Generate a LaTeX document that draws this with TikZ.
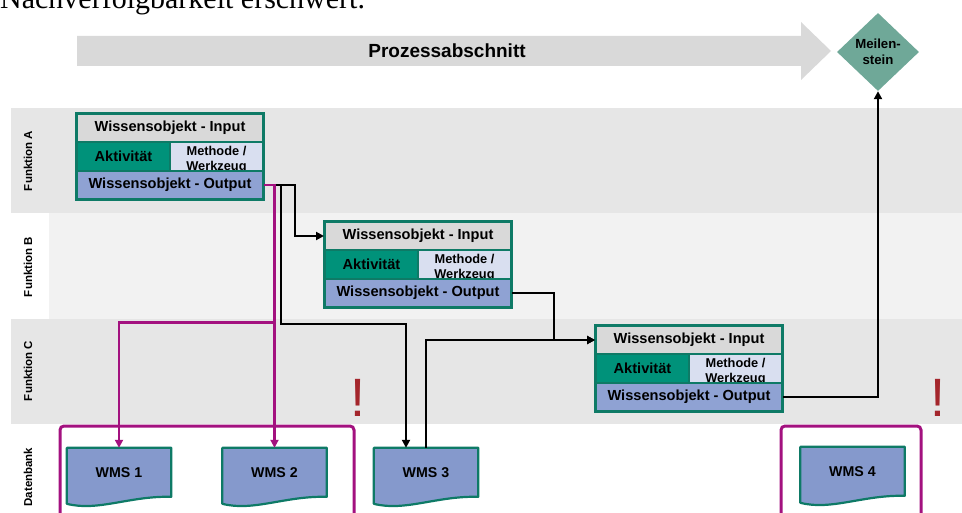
\documentclass[tikz,border=0pt]{standalone}
\usepackage{fontspec}
\setmainfont{Liberation Sans}
\newfontfamily\headserif{Liberation Serif}
\usetikzlibrary{shapes.geometric,arrows.meta,calc}
\pgfdeclarelayer{bg}
\pgfsetlayers{bg,main}

\definecolor{laneD}{HTML}{E6E6E6}
\definecolor{laneL}{HTML}{F2F2F2}
\definecolor{inGray}{HTML}{D9D9D9}
\definecolor{tealB}{HTML}{0E7A66}
\definecolor{aktF}{HTML}{00927A}
\definecolor{metF}{HTML}{D9DFF0}
\definecolor{outF}{HTML}{8FA2D3}
\definecolor{wmsF}{HTML}{8599CC}
\definecolor{msF}{HTML}{6FA898}
\definecolor{purp}{HTML}{A3117F}
\definecolor{bangC}{HTML}{A4262C}
\definecolor{arrowG}{HTML}{D9D9D9}

\newcommand{\wissbox}[3]{%
  \node[cin] (#1In) at (#2+93,#3+14) {Wissensobjekt - Input};
  \node[cakt] (#1Akt) at (#2+46.5,#3+42.5) {Aktivität};
  \node[cmet] (#1Met) at (#2+139.5,#3+42.5) {};
  \node[mettext] (#1MetT) at (#2+139.5,#3+45.5) {Methode /\\Werkzeug};
  \node[cout] (#1Out) at (#2+93,#3+71) {Wissensobjekt - Output};
  \draw[tealB, line width=2.4pt] (#1In.north west) rectangle (#1Out.south east);
}

\begin{document}
\begin{tikzpicture}[x=1pt,y=-1pt,
  cellbase/.style={draw=tealB, line width=2pt, inner sep=0pt, font=\bfseries\fontsize{14.6}{16}\selectfont},
  cin/.style={cellbase, fill=inGray, minimum width=186pt, minimum height=28pt},
  cakt/.style={cellbase, fill=aktF, minimum width=93pt, minimum height=29pt},
  cmet/.style={cellbase, fill=metF, minimum width=93pt, minimum height=29pt},
  cout/.style={cellbase, fill=outF, minimum width=186pt, minimum height=28pt},
  mettext/.style={inner sep=0pt, align=center, font=\bfseries\fontsize{12.8}{15}\selectfont},
  lanelab/.style={rotate=90, inner sep=0pt, font=\bfseries\fontsize{11.5}{13}\selectfont},
  wmslab/.style={minimum width=104pt, minimum height=50pt, inner sep=0pt, font=\bfseries\fontsize{14.2}{16}\selectfont},
  wmsshape/.style={fill=wmsF, draw=tealB, line width=2.2pt, line join=round},
  conn/.style={line width=2.2pt, black, -{Triangle[length=8pt,width=8pt]}},
  pconn/.style={line width=2.6pt, purp, -{Triangle[length=8pt,width=8pt]}},
  grouprect/.style={draw=purp, line width=3pt, rounded corners=4pt},
  bangst/.style={inner sep=0pt, text=bangC, font=\fontsize{54}{54}\selectfont}
]
\useasboundingbox (0,0) rectangle (962,513);

% lanes
\begin{pgfonlayer}{bg}
\fill[laneD] (11,108) rectangle (962,213);
\fill[laneL] (49,213) rectangle (962,319);
\fill[laneD] (11,319) rectangle (962,424);
\end{pgfonlayer}

% headline (cut at top, as in the reference)
\node[anchor=base west, inner sep=0pt, font=\headserif\fontsize{30}{30}\selectfont] (headline) at (0,9) {Nachverfolgbarkeit erschwert.};

% process arrow
\fill[arrowG] (77,36) -- (801,36) -- (801,22) -- (831,51) -- (801,80) -- (801,66) -- (77,66) -- cycle;
\node[inner sep=0pt, font=\bfseries\fontsize{19}{21}\selectfont] (proz) at (447,51) {Prozessabschnitt};

% milestone
\node[diamond, fill=msF, minimum width=82pt, minimum height=78pt, inner sep=0pt, align=center,
      font=\bfseries\fontsize{13.2}{16}\selectfont] (ms) at (878,52) {Meilen-\\stein};

% lane labels
\node[lanelab] (labA) at (28,161) {Funktion A};
\node[lanelab] (labB) at (28,267) {Funktion B};
\node[lanelab] (labC) at (28,371) {Funktion C};
\node[lanelab] (labD) at (28,477) {Datenbank};

% knowledge boxes
\wissbox{a}{77}{114}
\wissbox{b}{325}{222}
\wissbox{c}{596}{326}

% WMS documents
\node[wmslab] (wms1) at (119,473) {WMS 1};
\node[wmslab] (wms2) at (274.5,473) {WMS 2};
\node[wmslab] (wms3) at (426,473) {WMS 3};
\node[wmslab] (wms4) at (852.5,472) {WMS 4};
\begin{pgfonlayer}{bg}
\foreach \n in {wms1,wms2,wms3,wms4}
  \draw[wmsshape] (\n.north west) -- (\n.north east) -- ($(\n.north east)+(0,49)$)
    .. controls ($(\n.north west)+(62.4,48)$) and ($(\n.north west)+(31.2,64)$) .. ($(\n.north west)+(0,56)$) -- cycle;
\end{pgfonlayer}

% group rectangles
\draw[grouprect] (60,426) rectangle (354,530);
\draw[grouprect] (781,426) rectangle (921,530);

% warning marks
\node[bangst, anchor=base] (bang1) at (358,416) {!};
\node[bangst, anchor=base] (bang2) at (938,416) {!};

% black connectors
\draw[conn] (aOut.east) -- ++(31,0) |- (bIn.west);
\draw[conn] (aOut.east) -- ++(17,0) -- ++(0,139) -| ([xshift=-20pt]wms3.north);
\draw[conn] (bOut.east) -- ++(42,0) |- (cIn.west);
\draw[conn] (wms3.north) |- (cIn.west);
\draw[conn] (cOut.east) -| (ms.south);

% purple connectors
\draw[pconn] (aOut.east) -| (wms2.north);
\draw[pconn] ($(wms2.north)+(0,-125)$) -| (wms1.north);
\end{tikzpicture}
\end{document}
